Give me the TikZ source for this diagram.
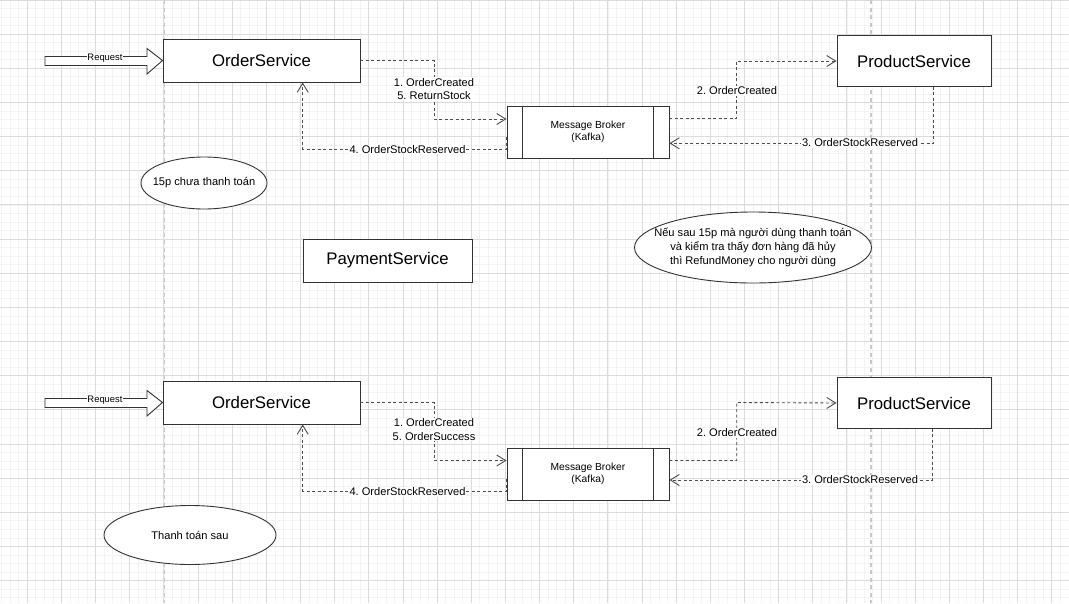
\documentclass[tikz,border=0pt]{standalone}
\usepackage{fontspec}
\setmainfont{Liberation Sans}
\usetikzlibrary{arrows.meta,shapes.geometric}
\frenchspacing
\definecolor{boxc}{HTML}{333333}
\definecolor{connc}{HTML}{4D4D4D}
\definecolor{gridmaj}{HTML}{DCDCDC}
\definecolor{gridmin}{HTML}{F3F3F3}
\definecolor{pagebrk}{HTML}{C8C8C8}
\tikzset{
  svcbox/.style={draw=boxc, line width=0.95pt, fill=white, inner sep=0pt, font=\fontsize{16.8}{20}\selectfont},
  ellbox/.style={ellipse, draw=boxc, line width=0.9pt, fill=white, inner sep=0pt},
  elltext/.style={inner sep=0pt, align=center, font=\fontsize{11.1}{13.8}\selectfont},
  conn/.style={draw=connc, line width=0.9pt, dash pattern=on 3pt off 2.5pt, -{Straight Barb[length=9pt,width=11pt]}},
  lbl/.style={fill=white, inner sep=0.8pt, align=center, font=\fontsize{11.1}{13.8}\selectfont},
  brokertext/.style={align=center, font=\fontsize{10.25}{12.3}\selectfont},
  minorline/.style={draw=gridmin, line width=0.7pt},
  majorline/.style={draw=gridmaj, line width=0.9pt},
  brkline/.style={draw=pagebrk, line width=1.2pt, dash pattern=on 4pt off 3.5pt},
}
\begin{document}
\begin{tikzpicture}[x=1pt,y=-1pt]
\useasboundingbox (0,0) rectangle (1069,603);
\fill[white] (0,0) rectangle (1069,603);
% grid
\foreach \i in {-3,...,122} \draw[minorline] ({27.3+8.5375*\i},0) -- ({27.3+8.5375*\i},603);
\foreach \j in {0,...,70} \draw[minorline] (0,{8.5375*\j}) -- (1069,{8.5375*\j});
\foreach \i in {0,...,30} \draw[majorline] ({27.3+34.15*\i},0) -- ({27.3+34.15*\i},603);
\foreach \j in {0,...,17} \draw[majorline] (0,{34.15*\j}) -- (1069,{34.15*\j});
% page breaks
\draw[brkline] (164.5,0) -- (164.5,603);
\draw[brkline] (871,0) -- (871,603);

% ===== top section =====
\node[svcbox, minimum width=197pt, minimum height=43pt] (os1) at (261.5,60.5) {OrderService};
\node[svcbox, minimum width=154pt, minimum height=51pt] (ps1) at (914,61) {ProductService};
\node[svcbox, minimum width=162pt, minimum height=52pt] (mb1) at (588,132) {};
\node[brokertext] (mb1t) at (588,132) {Message Broker\\(Kafka)};
\draw[draw=boxc, line width=0.95pt] ([xshift=16pt]mb1.north west) -- ([xshift=16pt]mb1.south west);
\draw[draw=boxc, line width=0.95pt] ([xshift=-16pt]mb1.north east) -- ([xshift=-16pt]mb1.south east);
\node[svcbox, minimum width=169pt, minimum height=43pt] (pay) at (387.5,260.5) {PaymentService};
\node[ellbox, minimum width=126pt, minimum height=52pt] (e1) at (204,183) {};
\node[elltext] (e1t) at (e1.center) {15p chưa thanh toán};
\node[ellbox, minimum width=237pt, minimum height=71pt] (e3) at (753,247.5) {};
\node[elltext] (e3t) at (e3.center) {Nếu sau 15p mà người dùng thanh toán\\và kiểm tra thấy đơn hàng đã hủy\\thì RefundMoney cho người dùng};

% request arrow top
\draw[draw=boxc, line width=0.9pt, fill=white] (45,56.5) -- (147,56.5) -- (147,48.5) -- (os1.west) -- (147,74) -- (147,65.5) -- (45,65.5) -- cycle;
\node[fill=white, inner sep=0.4pt, font=\fontsize{9.4}{11}\selectfont] (rq1) at (105,58.5) {Request};

% connectors top
\draw[conn] (os1.east) -| (434,119) -- (mb1.west |- 0,119);
\node[lbl] (l1) at (434,89) {1. OrderCreated\\5. ReturnStock};
\draw[conn] (mb1.west |- 0,137) -- (mb1.west |- 0,149) -| (os1.south -| 302.7,0);
\node[lbl] (l4) at (407.5,149.5) {4. OrderStockReserved};
\draw[conn] (mb1.east |- 0,118.5) -| (736.7,61) -- (ps1.west);
\node[lbl] (l2) at (737,91) {2. OrderCreated};
\draw[conn] (ps1.south -| 933.7,0) |- (mb1.east |- 0,143.3);
\node[lbl] (l3) at (860,143) {3. OrderStockReserved};

% ===== bottom section =====
\node[svcbox, minimum width=197pt, minimum height=43pt] (os2) at (261.5,402.5) {OrderService};
\node[svcbox, minimum width=154pt, minimum height=51pt] (ps2) at (914,403) {ProductService};
\node[svcbox, minimum width=162pt, minimum height=52pt] (mb2) at (588,474) {};
\node[brokertext] (mb2t) at (588,474) {Message Broker\\(Kafka)};
\draw[draw=boxc, line width=0.95pt] ([xshift=16pt]mb2.north west) -- ([xshift=16pt]mb2.south west);
\draw[draw=boxc, line width=0.95pt] ([xshift=-16pt]mb2.north east) -- ([xshift=-16pt]mb2.south east);
\node[ellbox, minimum width=172pt, minimum height=59pt] (e2) at (190,535) {};
\node[elltext] (e2t) at (e2.center) {Thanh toán sau};

% request arrow bottom
\draw[draw=boxc, line width=0.9pt, fill=white] (45,398.5) -- (147,398.5) -- (147,390.5) -- (os2.west) -- (147,416) -- (147,407.5) -- (45,407.5) -- cycle;
\node[fill=white, inner sep=0.4pt, font=\fontsize{9.4}{11}\selectfont] (rq2) at (105,400.5) {Request};

% connectors bottom
\draw[conn] (os2.east) -| (434,460.5) -- (mb2.west |- 0,460.5);
\node[lbl] (l5) at (434,429.5) {1. OrderCreated\\5. OrderSuccess};
\draw[conn] (mb2.west |- 0,479) -- (mb2.west |- 0,491) -| (os2.south -| 302.7,0);
\node[lbl] (l8) at (407.5,492) {4. OrderStockReserved};
\draw[conn] (mb2.east |- 0,460.5) -| (736.7,402.5) -- (ps2.west);
\node[lbl] (l6) at (737,433) {2. OrderCreated};
\draw[conn] (ps2.south -| 932.5,0) |- (mb2.east |- 0,480);
\node[lbl] (l7) at (860,480) {3. OrderStockReserved};
\end{tikzpicture}
\end{document}
